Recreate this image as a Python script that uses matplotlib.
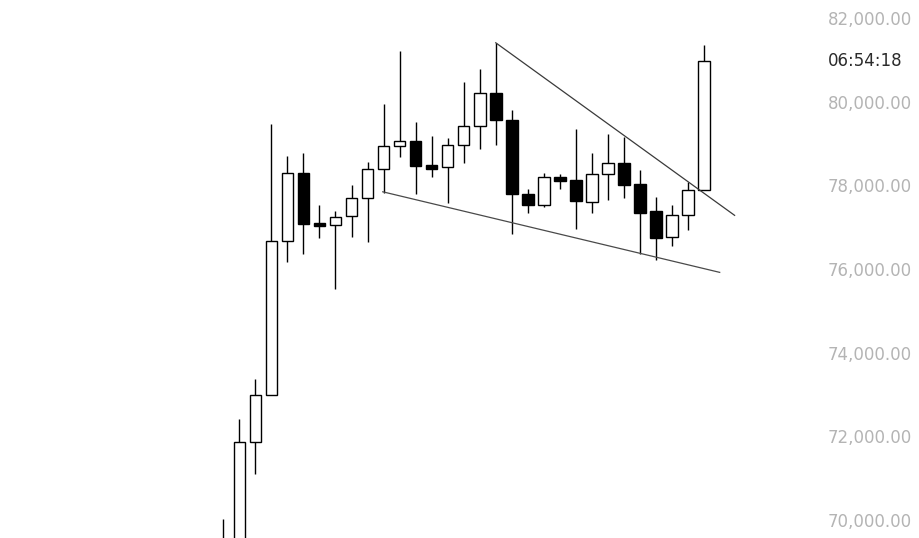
import matplotlib
matplotlib.use("Agg")
import matplotlib.pyplot as plt
from matplotlib.ticker import FuncFormatter

# Données des bougies
opens = [69000, 69300, 71857, 72980, 76661, 78286, 77090, 77043, 77258, 77689,
         78381, 78931, 79059, 78477, 78429, 78955, 79409, 80199, 79553, 77785,
         77522, 78191, 78126, 77608, 78262, 78533, 78022, 77378, 76757, 77282,
         77880]
closes = [69450, 71857, 72980, 76661, 78286, 77082, 77040, 77234, 77689, 78381,
          78931, 79051, 78468, 78396, 78955, 79409, 80199, 79553, 77785, 77522,
          78191, 78110, 77631, 78262, 78533, 78014, 77345, 76747, 77282, 77880,
          80962]
highs = [70020, 72414, 73370, 79464, 78700, 78771, 77529, 77385, 78006, 78556,
         79942, 81209, 79512, 79178, 79130, 80468, 80779, 81408, 79792, 77911,
         78293, 78262, 79345, 78771, 79225, 79162, 78365, 77727, 77529, 78085,
         81352]
lows = [68800, 69100, 71092, 72980, 76174, 76366, 76747, 75528, 76772, 76651,
        77808, 78683, 77799, 78205, 77584, 78540, 78859, 78970, 76828, 77330,
        77474, 77918, 76962, 77330, 77655, 77703, 76366, 76221, 76556, 76938,
        77880]

# Lignes de tendance (biseau descendant)
upper_line_x = [17, 31.9]
upper_line_y = [81408, 77283]
lower_line_x = [9.95, 30.97]
lower_line_y = [77846, 75920]

price_ticks = [70000, 72000, 74000, 76000, 78000, 80000, 82000]
countdown = "06:54:18"

fig = plt.figure(figsize=(9.19, 5.38), dpi=100)
ax = fig.add_axes([0, 0, 800 / 919, 1])

idx = list(range(len(opens)))

# Mèches
ax.vlines(idx, lows, highs, color="black", linewidth=1.0, zorder=1)

# Corps
bottoms = [min(o, c) for o, c in zip(opens, closes)]
heights = [max(abs(c - o), 20) for o, c in zip(opens, closes)]
colors = ["white" if c >= o else "black" for o, c in zip(opens, closes)]
ax.bar(idx, heights, bottom=bottoms, width=0.72, color=colors,
       edgecolor="black", linewidth=1.0, zorder=2)

ax.plot(upper_line_x, upper_line_y, color="#3a3a3a", linewidth=0.9, zorder=3)
ax.plot(lower_line_x, lower_line_y, color="#4a4a4a", linewidth=0.9, zorder=3)

ax.set_xlim(-13.93, 35.98)
ax.set_ylim(69570, 82431)

for s in ax.spines.values():
    s.set_visible(False)
ax.set_xticks([])
ax.set_yticks(price_ticks)
ax.yaxis.set_major_formatter(FuncFormatter(lambda v, p: f"{v:,.2f}"))
ax.tick_params(axis="y", which="both", length=0, left=False, labelleft=False,
               right=False, labelright=True, pad=20, labelsize=12,
               labelcolor="#b4b4b4")

# Compte à rebours à côté du dernier prix
ax.annotate(countdown, xy=(1, closes[-1]), xycoords=("axes fraction", "data"),
            xytext=(20, 0), textcoords="offset points", ha="left", va="center",
            fontsize=12, color="#2b2b2b")

fig.savefig("out.png", dpi=100)
plt.close("all")
